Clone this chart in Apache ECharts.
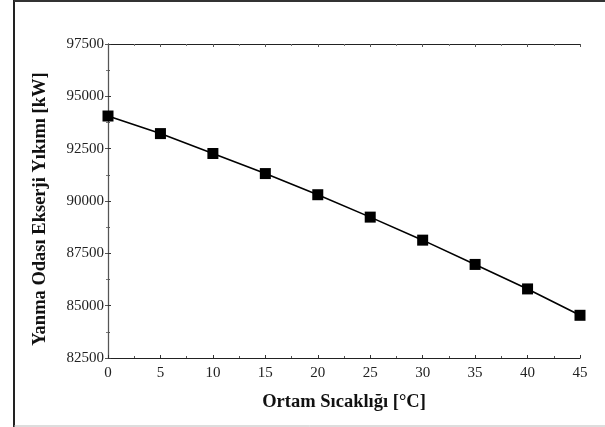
<!DOCTYPE html>
<html>
<head>
<meta charset="utf-8">
<script src="https://cdn.jsdelivr.net/npm/echarts@6/dist/echarts.min.js"></script>
<style>
    html, body {margin: 0; padding: 0; background: #fff;}
    #main {width: 605px; height: 427px;}
</style>
</head>
<body>
<div id="main"></div>
<script>
    // ambient temperature [°C]
    const temperatures = [0, 5, 10, 15, 20, 25, 30, 35, 40, 45];
    // combustion chamber exergy destruction [kW]
    const exergyDestruction = [94060, 93220, 92270, 91310, 90300, 89230, 88130, 86970, 85800, 84540];

    const xTitle = 'Ortam Sıcaklığı [°C]';
    const yTitle = 'Yanma Odası Ekserji Yıkımı [kW]';

    const serif = 'Liberation Serif';
    const myChart = echarts.init(document.getElementById('main'));

    // box axes (top / right) only carry inside ticks
    const boxAxis = {
        axisLine: {show: true, lineStyle: {color: '#555', width: 1}},
        axisTick: {show: true, inside: true, length: 3, lineStyle: {color: '#555'}},
        minorTick: {show: true, splitNumber: 2, length: 2, lineStyle: {color: '#777'}},
        axisLabel: {show: false},
        splitLine: {show: false},
    };

    const option = {
        animation: false,
        backgroundColor: '#fff',
        grid: {left: 108, right: 25, top: 44, bottom: 69},
        graphic: [
            {type: 'line', shape: {x1: 14, y1: 0, x2: 14, y2: 427}, style: {stroke: '#222', lineWidth: 2}},
            {type: 'line', shape: {x1: 14, y1: 1, x2: 605, y2: 1}, style: {stroke: '#333', lineWidth: 2}},
            {type: 'line', shape: {x1: 14, y1: 426, x2: 605, y2: 426}, style: {stroke: '#bbb', lineWidth: 1}},
        ],
        xAxis: [
            {
                type: 'value',
                min: 0, max: 45, interval: 5,
                name: xTitle,
                nameLocation: 'middle',
                nameGap: 35,
                nameTextStyle: {fontFamily: serif, fontWeight: 'bold', fontSize: 18.5, color: '#111'},
                axisLine: {show: true, lineStyle: {color: '#222', width: 1.2}},
                axisTick: {show: true, inside: true, length: 3, lineStyle: {color: '#333'}},
                minorTick: {show: true, splitNumber: 2, length: 2, lineStyle: {color: '#555'}},
                axisLabel: {fontFamily: serif, fontSize: 15, color: '#222', margin: 8},
                splitLine: {show: false},
            },
            Object.assign({type: 'value', position: 'top', min: 0, max: 45, interval: 5}, boxAxis, {
                axisLine: {show: true, lineStyle: {color: '#222', width: 1.2}}
            }),
        ],
        yAxis: [
            {
                type: 'value',
                min: 82500, max: 97500, interval: 2500,
                name: yTitle,
                nameLocation: 'middle',
                nameGap: 58,
                nameTextStyle: {fontFamily: serif, fontWeight: 'bold', fontSize: 18.5, color: '#111', padding: [0, 16, 0, 0]},
                axisLine: {show: true, lineStyle: {color: '#222', width: 1.2}},
                axisTick: {show: true, inside: true, length: 3, lineStyle: {color: '#333'}},
                minorTick: {show: true, splitNumber: 2, length: 2, lineStyle: {color: '#555'}},
                axisLabel: {fontFamily: serif, fontSize: 15, color: '#222', margin: 4, formatter: v => String(v)},
                splitLine: {show: false},
            },
            Object.assign({type: 'value', position: 'right', min: 82500, max: 97500, interval: 2500}, boxAxis),
        ],
        series: [
            {
                type: 'line',
                data: temperatures.map((t, i) => [t, exergyDestruction[i]]),
                symbol: 'rect',
                symbolSize: 11,
                clip: false,
                lineStyle: {color: '#000', width: 1.6},
                itemStyle: {color: '#000'},
            }
        ]
    };
    myChart.setOption(option);
</script>
</body>
</html>
